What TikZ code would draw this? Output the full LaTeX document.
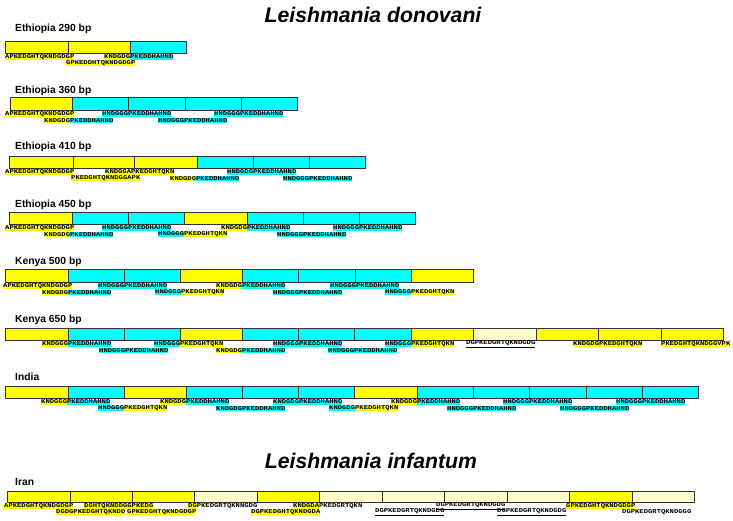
\documentclass[tikz,border=0pt]{standalone}
\usepackage{fontspec}
\setmainfont{Liberation Sans}
\newfontfamily\seqfont[FakeStretch=1.2]{Liberation Mono}
\definecolor{cy}{HTML}{00FFFF}
\definecolor{ye}{HTML}{FFFF00}
\definecolor{be}{HTML}{FFFFCC}
\definecolor{bd}{HTML}{333333}
\setlength{\fboxsep}{0pt}
\newcommand{\sstrut}{\rule[-0.9pt]{0pt}{4.2pt}}
\newcommand{\hy}[1]{\colorbox{ye}{\sstrut#1}}
\newcommand{\hc}[1]{\colorbox{cy}{\sstrut#1}}
\newcommand{\hn}[1]{\sstrut#1}
\newcommand{\hu}[1]{\underline{\sstrut#1}}
\tikzset{
  seg/.style={draw=bd, line width=0.7pt},
  lbl/.style={anchor=west, inner sep=0pt, font=\seqfont\bfseries\fontsize{6}{6}\selectfont},
  ttl/.style={anchor=base, inner sep=0pt, font=\bfseries\itshape\fontsize{21.2}{24}\selectfont},
  sub/.style={anchor=base west, inner sep=0pt, font=\bfseries\fontsize{10.3}{12}\selectfont}
}
\begin{document}
\begin{tikzpicture}[x=1pt, y=-1pt]
\useasboundingbox (0,0) rectangle (733,520);

% titles
\node[ttl] (t1) at (373,22) {Leishmania donovani};
\node[ttl] (t2) at (371,468) {Leishmania infantum};

% ---------------- Ethiopia 290
\node[sub] (s1) at (15,31) {Ethiopia 290 bp};
\foreach \a/\b/\c in {5/68/ye,68/130/ye,130/186/cy}
  \draw[seg, fill=\c] (\a,41) rectangle (\b,53);
\node[lbl] (a1) at (5,57.3) {\hy{APKEDGHTQKNDGDGP}};
\node[lbl] (a2) at (104,57.3) {\hy{KNDGDG}\hc{PKEDDHAHND}};
\node[lbl] (a3) at (66,63.5) {\hy{GPKEDDHTQKNDGDGP}};

% ---------------- Ethiopia 360
\node[sub] (s2) at (15,93) {Ethiopia 360 bp};
\foreach \a/\b/\c in {10/72/ye,72/128/cy,128/185/cy,185/241/cy,241/297/cy}
  \draw[seg, fill=\c] (\a,97) rectangle (\b,110);
\node[lbl] (b1) at (5,114.3) {\hy{APKEDGHTQKNDGDGP}};
\node[lbl] (b2) at (102,114.3) {\hc{HNDGGGPKEDDHAHND}};
\node[lbl] (b3) at (214,114.3) {\hc{HNDGGGPKEDDHAHND}};
\node[lbl] (b4) at (44,120.5) {\hy{KNDGDG}\hc{PKEDDHAHND}};
\node[lbl] (b5) at (158,120.5) {\hc{HNDGGGPKEDDHAHND}};

% ---------------- Ethiopia 410
\node[sub] (s3) at (15,149) {Ethiopia 410 bp};
\foreach \a/\b/\c in {9/73/ye,73/134/ye,134/197/ye,197/253/cy,253/309/cy,309/365/cy}
  \draw[seg, fill=\c] (\a,156) rectangle (\b,168);
\node[lbl] (c1) at (5,172.3) {\hy{APKEDGHTQKNDGDGP}};
\node[lbl] (c2) at (105,172.3) {\hy{KNDGGAPKEDGHTQKN}};
\node[lbl] (c3) at (227,172.3) {\hc{HNDGDGPKEDDHAHND}};
\node[lbl] (c4) at (71,178.5) {\hy{PKEDGHTQKNDGGAPK}};
\node[lbl] (c5) at (170,178.5) {\hy{KNDGDG}\hc{PKEDDHAHND}};
\node[lbl] (c6) at (283,178.5) {\hc{HNDGGGPKEDDHAHND}};

% ---------------- Ethiopia 450
\node[sub] (s4) at (15,207) {Ethiopia 450 bp};
\foreach \a/\b/\c in {9/72/ye,72/128/cy,128/184/cy,184/247/ye,247/303/cy,303/359/cy,359/415/cy}
  \draw[seg, fill=\c] (\a,212) rectangle (\b,224);
\node[lbl] (d1) at (5,228.3) {\hy{APKEDGHTQKNDGDGP}};
\node[lbl] (d2) at (102,228.3) {\hc{HNDGGGPKEDDHAHND}};
\node[lbl] (d3) at (221,228.3) {\hy{KNDGDG}\hc{PKEDDHAHND}};
\node[lbl] (d4) at (333,228.3) {\hc{HNDGGGPKEDDHAHND}};
\node[lbl] (d5) at (44,234.5) {\hy{KNDGDG}\hc{PKEDDHAHND}};
\node[lbl] (d6) at (158,234.5) {\hc{HNDGGG}\hy{PKEDGHTQKN}};
\node[lbl] (d7) at (277,234.5) {\hc{HNDGGGPKEDDHAHND}};

% ---------------- Kenya 500
\node[sub] (s5) at (15,264) {Kenya 500 bp};
\foreach \a/\b/\c in {5/68/ye,68/124/cy,124/180/cy,180/242/ye,242/298/cy,298/355/cy,355/411/cy,411/473/ye}
  \draw[seg, fill=\c] (\a,269) rectangle (\b,282);
\node[lbl] (e1) at (3,286.3) {\hy{APKEDGHTQKNDGDGP}};
\node[lbl] (e2) at (98,286.3) {\hc{HNDGGGPKEDDHAHND}};
\node[lbl] (e3) at (216,286.3) {\hy{KNDGDG}\hc{PKEDDHAHND}};
\node[lbl] (e4) at (330,286.3) {\hc{HNDGGGPKEDDHAHND}};
\node[lbl] (e5) at (42,292.5) {\hy{KNDGDG}\hc{PKEDDHAHND}};
\node[lbl] (e6) at (155,292.5) {\hc{HNDGGG}\hy{PKEDGHTQKN}};
\node[lbl] (e7) at (273,292.5) {\hc{HNDGGGPKEDDHAHND}};
\node[lbl] (e8) at (385,292.5) {\hc{HNDGGG}\hy{PKEDGHTQKN}};

% ---------------- Kenya 650
\node[sub] (s6) at (15,322) {Kenya 650 bp};
\foreach \a/\b/\c in {5/68/ye,68/124/cy,124/180/cy,180/242/ye,242/298/cy,298/354/cy,354/411/cy,411/473/ye,473/536/be,536/598/ye,598/661/ye,661/723/ye}
  \draw[seg, fill=\c] (\a,328) rectangle (\b,340);
\node[lbl] (f1) at (42,344.3) {\hy{KNDGGG}\hc{PKEDDHAHND}};
\node[lbl] (f2) at (154,344.3) {\hc{HNDGGG}\hy{PKEDGHTQKN}};
\node[lbl] (f3) at (273,344.3) {\hc{HNDGGGPKEDDHAHND}};
\node[lbl] (f4) at (385,344.3) {\hc{HNDGGG}\hy{PKEDGHTQKN}};
\node[lbl] (f5) at (466,344.3) {\hu{DGPKEDGRTQKNDGDG}};
\node[lbl] (f6) at (573,344.3) {\hy{KNDGDGPKEDGHTQKN}};
\node[lbl] (f7) at (661,344.3) {\hy{PKEDGHTQKNDGGVPK}};
\node[lbl] (f8) at (99,350.5) {\hc{HNDGGGPKEDDHAHND}};
\node[lbl] (f9) at (216,350.5) {\hy{KNDGDG}\hc{PKEDDHAHND}};
\node[lbl] (f10) at (328,350.5) {\hc{HNDGGGPKEDDHAHND}};

% ---------------- India
\node[sub] (s7) at (15,380) {India};
\foreach \a/\b/\c in {5/68/ye,68/124/cy,124/186/ye,186/242/cy,242/298/cy,298/354/cy,354/417/ye,417/473/cy,473/529/cy,529/586/cy,586/642/cy,642/698/cy}
  \draw[seg, fill=\c] (\a,386) rectangle (\b,398);
\node[lbl] (g1) at (41,402.3) {\hy{KNDGGG}\hc{PKEDDHAHND}};
\node[lbl] (g2) at (160,402.3) {\hy{KNDGDG}\hc{PKEDDHAHND}};
\node[lbl] (g3) at (273,402.3) {\hc{KNDGDGPKEDDHAHND}};
\node[lbl] (g4) at (391,402.3) {\hy{KNDGDG}\hc{PKEDDHAHND}};
\node[lbl] (g5) at (503,402.3) {\hc{HNDGGGPKEDDHAHND}};
\node[lbl] (g6) at (616,402.3) {\hc{HNDGGGPKEDDHAHND}};
\node[lbl] (g7) at (98,408.5) {\hc{HNDGGG}\hy{PKEDGHTQKN}};
\node[lbl] (g8) at (216,408.5) {\hc{KNDGDGPKEDDHAHND}};
\node[lbl] (g9) at (329,408.5) {\hc{KNDGDG}\hy{PKEDGHTQKN}};
\node[lbl] (g10) at (447,408.5) {\hc{HNDGGGPKEDDHAHND}};
\node[lbl] (g11) at (560,408.5) {\hc{HNDGGGPKEDDHAHND}};

% ---------------- Iran
\node[sub] (s8) at (15,485) {Iran};
\foreach \a/\b/\c in {7/70/ye,70/132/ye,132/194/ye,194/257/be,257/319/ye,319/382/be,382/444/be,444/507/be,507/569/be,569/632/ye,632/694/be}
  \draw[seg, fill=\c] (\a,491) rectangle (\b,502);
\node[lbl] (h1) at (4,506.3) {\hy{APKEDGHTQKNDGDGP}};
\node[lbl] (h2) at (84,506.3) {\hy{DGHTQKNDDGGPKEDG}};
\node[lbl] (h3) at (188,506.3) {\hy{DG}\hn{PKEDGRTQKNNGDG}};
\node[lbl] (h4) at (293,506.3) {\hy{KNDGDA}\hn{PKEDGRTQKN}};
\node[lbl] (h5) at (436,506.3) {\hu{DGPKEDGRTQKNDGDG}};
\node[lbl] (h6) at (566,506.3) {\hy{GPKEDGHTQKNDGDGP}};
\node[lbl] (h7) at (56,512.5) {\hy{DGDGPKEDGHTQKNDD}};
\node[lbl] (h8) at (127,512.5) {\hy{GPKEDGHTQKNDGDGP}};
\node[lbl] (h9) at (251,512.5) {\hy{DGPKEDGHTQKNDGDA}};
\node[lbl] (h10) at (375,512.5) {\hu{DGPKEDGRTQKNDGDG}};
\node[lbl] (h11) at (497,512.5) {\hu{DGPKEDGRTQKNDGDG}};
\node[lbl] (h12) at (622,512.5) {\hn{DGPKEDGRTQKNDGGG}};
\end{tikzpicture}
\end{document}
